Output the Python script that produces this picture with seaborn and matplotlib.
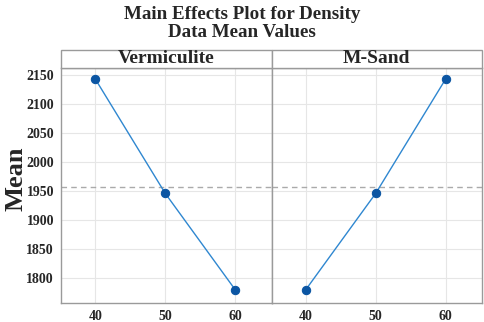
import pandas as pd
import numpy as np
import seaborn as sns
import matplotlib.pyplot as plt
from matplotlib.patches import Rectangle

factors = ['Vermiculite', 'M-Sand']
levels = [40, 50, 60]
vermiculite_mean = [2143, 1946, 1780]
msand_mean = [1780, 1946, 2143]

df = pd.DataFrame({
    'factor': np.repeat(factors, len(levels)),
    'level': levels * 2,
    'mean': vermiculite_mean + msand_mean,
})
grand_mean = df['mean'].mean()

sns.set_style('white')
plt.rcParams['font.family'] = ['Liberation Serif', 'DejaVu Serif']
plt.rcParams['font.weight'] = 'bold'

fig, axes = plt.subplots(1, 2, figsize=(4.84, 3.22), dpi=100, sharey=True)
fig.subplots_adjust(left=0.126, right=0.996, bottom=0.059, top=0.789, wspace=0)

for ax, fac in zip(axes, factors):
    sub = df[df['factor'] == fac]
    ax.grid(True, color='#e6e6e6', linewidth=0.8)
    ax.set_axisbelow(True)
    ax.axhline(grand_mean, color='#aaaaaa', linestyle='--', linewidth=1, dashes=(4, 3))
    sns.lineplot(data=sub, x='level', y='mean', ax=ax, color='#2f87d0', linewidth=1,
                 marker='o', markersize=6, markerfacecolor='#0b55a3', markeredgecolor='#0b55a3')
    ax.set_xlim(35.1, 65.2)
    ax.set_xticks(levels)
    ax.set_xlabel('')
    ax.set_ylabel('')
    for s in ax.spines.values():
        s.set_color('#9a9a9a')
        s.set_linewidth(1)
    ax.tick_params(axis='both', labelsize=10, length=3, color='#9a9a9a', pad=2)
    for lab in ax.get_xticklabels() + ax.get_yticklabels():
        lab.set_fontweight('bold')

    # strip header
    pos = ax.get_position()
    fig.patches.append(Rectangle((pos.x0, pos.y1), pos.width, 0.056, transform=fig.transFigure,
                                 facecolor='white', edgecolor='#9a9a9a', linewidth=1))
    fig.text(pos.x0 + pos.width / 2, pos.y1 + 0.028, fac, ha='center', va='center',
             fontsize=14, fontweight='bold')

axes[0].set_ylim(1757, 2162)
axes[0].set_yticks([1800, 1850, 1900, 1950, 2000, 2050, 2100, 2150])
axes[1].tick_params(axis='y', left=False)
axes[0].set_ylabel('Mean', fontsize=19, fontweight='bold')
axes[0].yaxis.set_label_coords(-0.158, 0.53)

fig.suptitle('Main Effects Plot for Density\nData Mean Values', fontsize=13.7, fontweight='bold',
             y=0.98, linespacing=1.05)

fig.savefig('out.png', dpi=100)
